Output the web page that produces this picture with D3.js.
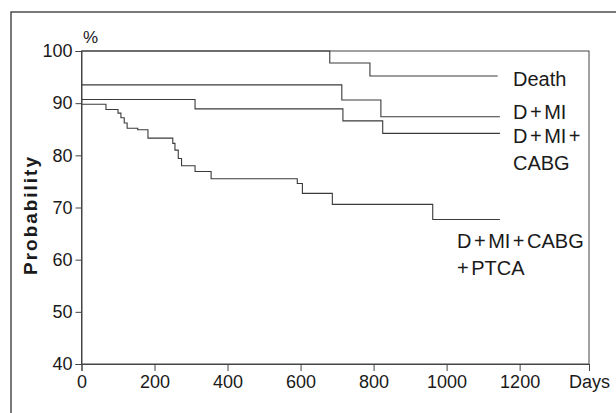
<!DOCTYPE html>
<html>
<head>
<meta charset="utf-8">
<script src="https://cdn.jsdelivr.net/npm/d3@7"></script>
<style>
  body { margin: 0; background: #fff; }
  text { font-family: "Liberation Sans", Arial, sans-serif; fill: #1a1a1a; }
</style>
</head>
<body>
<div id="chart"></div>
<script>
// Kaplan-Meier curves (days, % event free)
const deathDays = [0, 680, 790, 1140];
const deathVals = [100, 97.7, 95.2, 95.2];

const dmiDays = [0, 713, 820, 1146];
const dmiVals = [93.5, 90.6, 87.4, 87.4];

const cabgDays = [0, 311, 716, 825, 1146];
const cabgVals = [90.7, 88.9, 86.6, 84.2, 84.2];

const ptcaDays = [0, 67, 100, 108, 117, 125, 154, 182, 250, 256, 265, 274, 311, 355, 591, 605, 687, 962, 1146];
const ptcaVals = [89.8, 88.8, 88.1, 87.2, 86.2, 85.2, 84.9, 83.3, 82.3, 81.0, 79.4, 78.0, 76.9, 75.5, 74.6, 72.7, 70.6, 67.7, 67.7];

const xTicks = [0, 200, 400, 600, 800, 1000, 1200, 1390];
const yTicks = [40, 50, 60, 70, 80, 90, 100];

const W = 616, H = 413;

const svg = d3.select("#chart").append("svg")
    .attr("width", W)
    .attr("height", H);

// outer frame of the figure (runs off the right and bottom edge)
svg.append("rect")
    .attr("x", 11).attr("y", 12)
    .attr("width", 700).attr("height", 500)
    .attr("fill", "none")
    .attr("stroke", "#222")
    .attr("stroke-width", 1.2);

const x = d3.scaleLinear().domain([0, 1390]).range([81.5, 589]);
const y = d3.scaleLinear().domain([40, 100]).range([364, 51]);

// plot box
svg.append("rect")
    .attr("x", x(0)).attr("y", y(100))
    .attr("width", x(1390) - x(0))
    .attr("height", y(40) - y(100))
    .attr("fill", "none")
    .attr("stroke", "#444")
    .attr("stroke-width", 1);

// axes
const xAxis = svg.append("g")
    .attr("transform", `translate(0,${y(40)})`)
    .call(d3.axisBottom(x)
        .tickValues(xTicks)
        .tickSize(7)
        .tickPadding(4)
        .tickFormat(d => d === 1390 ? "Days" : d));

const yAxis = svg.append("g")
    .attr("transform", `translate(${x(0)},0)`)
    .call(d3.axisLeft(y)
        .tickValues(yTicks)
        .tickSize(6)
        .tickPadding(3));

[xAxis, yAxis].forEach(g => {
    g.select(".domain").attr("stroke", "#444");
    g.selectAll(".tick line").attr("stroke", "#444");
    g.selectAll(".tick text")
        .style("font-family", "'Liberation Sans', Arial, sans-serif")
        .style("font-size", "18px")
        .attr("fill", "#1a1a1a");
});

// "%" over the y axis
svg.append("text")
    .attr("x", 83).attr("y", 43)
    .style("font-size", "17px")
    .text("%");

// y axis title
svg.append("text")
    .attr("transform", "translate(37,216) rotate(-90)")
    .attr("text-anchor", "middle")
    .attr("textLength", 118)
    .attr("lengthAdjust", "spacing")
    .style("font-size", "19px")
    .style("font-weight", "bold")
    .text("Probability");

// the curves
const line = d3.line()
    .x(d => x(d[0]))
    .y(d => y(d[1]))
    .curve(d3.curveStepAfter);

const series = [
    [deathDays, deathVals],
    [dmiDays, dmiVals],
    [cabgDays, cabgVals],
    [ptcaDays, ptcaVals]
];

series.forEach(([days, vals]) => {
    svg.append("path")
        .datum(days.map((d, i) => [d, vals[i]]))
        .attr("fill", "none")
        .attr("stroke", "#3a3a3a")
        .attr("stroke-width", 1.1)
        .attr("d", line);
});

// curve labels; the "+" signs are set a bit apart like in the print
const labels = [
    { x: 513, y: 86, lines: ["Death"] },
    { x: 513, y: 119, lines: ["D+MI"] },
    { x: 513, y: 143, lines: ["D+MI+", "CABG"] },
    { x: 457, y: 248, lines: ["D+MI+CABG", "+PTCA"] }
];

labels.forEach(l => {
    const t = svg.append("text")
        .attr("y", l.y)
        .style("font-size", "20px");
    l.lines.forEach((s, i) => {
        const parts = s.split(/(\+)/).filter(p => p !== "");
        parts.forEach((p, j) => {
            const ts = t.append("tspan").text(p);
            if (j === 0) {
                ts.attr("x", l.x).attr("dy", i === 0 ? 0 : 26.5);
            } else if (p === "+" || parts[j - 1] === "+") {
                ts.attr("dx", 2.5);
            }
        });
    });
});
</script>
</body>
</html>
